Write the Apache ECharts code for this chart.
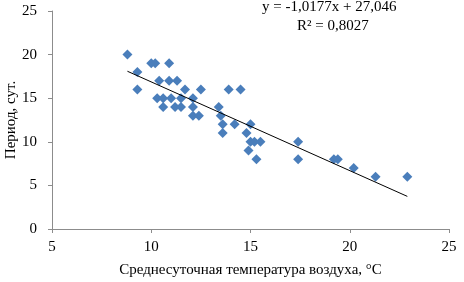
<!DOCTYPE html>
<html>
<head>
	<meta charset="utf-8">
	<title>Период от температуры</title>
	<script src="https://cdn.jsdelivr.net/npm/echarts@6/dist/echarts.min.js"></script>
	<style>
		html, body { margin: 0; padding: 0; background: #fff; }
		#chart1 { width: 464px; height: 282px; }
	</style>
</head>
<body>
	<div id="chart1"></div>
	<script type="text/javascript">
    // среднесуточная температура, °C
    var tempX = [8.8, 9.3, 9.3, 10.0, 10.2, 10.9, 10.4, 10.9, 11.3, 11.7, 12.5, 13.9, 14.5,
                 10.3, 10.6, 11.0, 11.5, 12.1, 10.6, 11.2, 11.5, 12.1, 12.1, 12.4, 13.4, 13.5,
                 13.6, 14.2, 15.0, 13.6, 14.8, 15.0, 15.2, 15.5, 14.9, 15.3, 17.4, 17.4,
                 19.2, 19.4, 20.2, 21.3, 22.9];
    // период, сут.
    var periodY = [20, 18, 16, 19, 19, 19, 17, 17, 17, 16, 16, 16, 16,
                   15, 15, 15, 15, 15, 14, 14, 14, 14, 13, 13, 14, 13,
                   12, 12, 12, 11, 11, 10, 10, 10, 9, 8, 10, 8,
                   8, 8, 7, 6, 6];
    // линия тренда из подписи на графике
    var slope = -1.0177, intercept = 27.046;
    var trendX = [8.8, 22.9];
    var xTicks = [5, 10, 15, 20, 25];
    var yTicks = [0, 5, 10, 15, 20, 25];

    var pts = [];
    for (var i = 0; i < tempX.length; i++) {
        pts.push([tempX[i], periodY[i]]);
    }
    var trend = [];
    for (var j = 0; j < trendX.length; j++) {
        trend.push([trendX[j], slope * trendX[j] + intercept]);
    }

    var font = 'Liberation Serif';
    var myChart = echarts.init(document.getElementById('chart1'));
    var option = {
        animation: false,
        textStyle: {fontFamily: font},
        grid: {left: 52, right: 15, top: 11, bottom: 53, containLabel: false, outerBoundsMode: 'none'},
        xAxis: {
            type: 'value',
            min: xTicks[0], max: xTicks[xTicks.length - 1], interval: 5,
            name: 'Среднесуточная температура воздуха, °C',
            nameLocation: 'middle', nameGap: 34,
            nameTextStyle: {fontFamily: font, fontSize: 15, color: '#000'},
            axisLine: {lineStyle: {color: '#8c8c8c', width: 1}},
            axisTick: {show: true, length: 4, lineStyle: {color: '#8c8c8c'}},
            axisLabel: {fontFamily: font, fontSize: 15, color: '#000', margin: 11},
            splitLine: {show: false}
        },
        yAxis: {
            type: 'value',
            min: yTicks[0], max: yTicks[yTicks.length - 1], interval: 5,
            name: 'Период, сут.',
            nameLocation: 'middle', nameGap: 33, nameMoveOverlap: false,
            nameTextStyle: {fontFamily: font, fontSize: 15, color: '#000'},
            axisLine: {show: true, lineStyle: {color: '#8c8c8c', width: 1}},
            axisTick: {show: true, length: 4, lineStyle: {color: '#8c8c8c'}},
            axisLabel: {fontFamily: font, fontSize: 15, color: '#000', margin: 15},
            splitLine: {show: false}
        },
        graphic: [
            {type: 'text', left: 262, top: 0, style: {text: 'y = -1,0177x + 27,046', font: '15px "Liberation Serif"', fill: '#000'}},
            {type: 'text', left: 297, top: 19, style: {text: 'R² = 0,8027', font: '15px "Liberation Serif"', fill: '#000'}}
        ],
        series: [
            {
                name: 'Период',
                type: 'scatter',
                symbol: 'diamond',
                symbolSize: 10,
                itemStyle: {color: '#4a7ebb', opacity: 1},
                data: pts,
                z: 2
            },
            {
                name: 'Тренд',
                type: 'line',
                symbol: 'none',
                lineStyle: {color: '#000', width: 1},
                data: trend,
                z: 3
            }
        ]
    };
    myChart.setOption(option, true);
	</script>
</body>
</html>
